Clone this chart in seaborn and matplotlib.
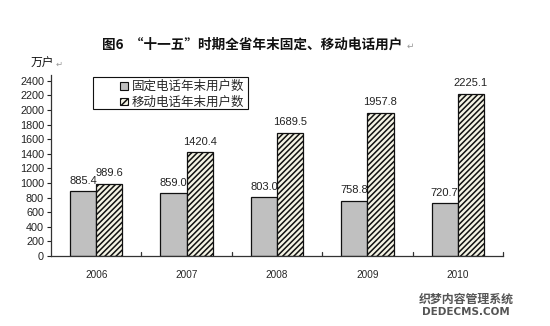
import matplotlib
matplotlib.use("Agg")
import matplotlib.pyplot as plt
import seaborn as sns
import pandas as pd
from matplotlib.patches import Patch, Rectangle

years = ["2006", "2007", "2008", "2009", "2010"]
fixed = [885.4, 859.0, 803.0, 758.8, 720.7]
mobile = [989.6, 1420.4, 1689.5, 1957.8, 2225.1]
series_names = ["固定电话年末用户数", "移动电话年末用户数"]
yticks = [0, 200, 400, 600, 800, 1000, 1200, 1400, 1600, 1800, 2000, 2200, 2400]
title = "图6  “十一五”时期全省年末固定、移动电话用户"
unit = "万户"

df = pd.DataFrame({
    "year": years * 2,
    "value": fixed + mobile,
    "series": [series_names[0]] * len(years) + [series_names[1]] * len(years),
})

sns.set_theme(style="white")
plt.rcParams['font.family'] = ['Liberation Sans', 'Noto Sans CJK SC', 'DejaVu Sans']
plt.rcParams['hatch.linewidth'] = 1.1
plt.rcParams['hatch.color'] = '#222222'

fig = plt.figure(figsize=(5.5, 3.26), dpi=100)
W, H = 550, 326
ax = fig.add_axes([51 / W, 1 - 256 / H, (503 - 51) / W, (256 - 74.9) / H])

sns.barplot(data=df, x="year", y="value", hue="series", ax=ax,
            width=0.58, gap=0, legend=False, saturation=1)

colors = ["#c0c0c0", "#f4f3e4"]
hatches = ["", "//////"]
n = len(years)
for i, p in enumerate(ax.patches[:2 * n]):
    s = i // n
    p.set_facecolor(colors[s])
    p.set_edgecolor("#111111")
    p.set_linewidth(0.9)
    p.set_hatch(hatches[s])

for i, p in enumerate(ax.patches[:2 * n]):
    v = (fixed + mobile)[i]
    ax.annotate(f"{v:.1f}", (p.get_x() + p.get_width() / 2, p.get_height()),
                xytext=(0, 4), textcoords="offset points", ha="center", va="bottom",
                fontsize=8, color="#222222")

ax.set_ylim(0, 2480)
ax.set_xlim(-0.5, 4.5)
ax.set_yticks(yticks)
ax.set_yticklabels([str(t) for t in yticks], fontsize=7.8)
ax.set_xticks(range(n))
ax.set_xticklabels(years, fontsize=7.2)
ax.set_xlabel("")
ax.set_ylabel("")
ax.tick_params(axis="x", length=0, pad=10)
ax.tick_params(axis="y", left=True, length=3, width=0.8, direction="out", pad=2, colors="#222222")
for b in [0.5, 1.5, 2.5, 3.5, 4.5]:
    ax.plot([b, b], [0, 55], color="#333333", lw=0.9, clip_on=False)

for side in ["top", "right"]:
    ax.spines[side].set_visible(False)
for side in ["left", "bottom"]:
    ax.spines[side].set_color("#333333")
    ax.spines[side].set_linewidth(0.9)

# legend: entries placed inside a manually drawn frame
handles = [Patch(facecolor=colors[0], edgecolor="#111111", linewidth=0.8),
           Patch(facecolor=colors[1], edgecolor="#111111", linewidth=0.8, hatch="/////")]
leg = fig.legend(handles, series_names, loc="upper left",
                 bbox_to_anchor=(117 / W, 1 - 77 / H),
                 frameon=False, handlelength=0.6, handleheight=0.6,
                 handletextpad=0.35, borderpad=0.25, labelspacing=0.22, borderaxespad=0,
                 prop={'family': ['Noto Sans CJK SC', 'DejaVu Sans'], 'size': 9})
fig.add_artist(Rectangle((93 / W, 1 - 109 / H), (248 - 93) / W, (109 - 77) / H,
                         transform=fig.transFigure, facecolor="white",
                         edgecolor="#111111", linewidth=0.8, zorder=2))
leg.set_zorder(3)

fig.text(252 / W, 1 - 45 / H, title, ha="center", va="center", fontsize=9.8,
         fontweight="bold", family=['Noto Sans CJK SC', 'DejaVu Sans'], color="#111111")
fig.text(410 / W, 1 - 46 / H, "↵", ha="center", va="center", fontsize=6.5,
         family=['DejaVu Sans'], color="#999999")
fig.text(31 / W, 1 - 63 / H, unit, ha="left", va="center", fontsize=8.5,
         family=['Noto Sans CJK SC', 'DejaVu Sans'], color="#111111")
fig.text(56 / W, 1 - 64 / H, "↵", ha="left", va="center", fontsize=6,
         family=['DejaVu Sans'], color="#999999")

fig.text(466 / W, 1 - 299 / H, "织梦内容管理系统", ha="center", va="center", fontsize=8.6,
         fontweight="bold", family=['Noto Sans CJK SC', 'DejaVu Sans'], color="#555555")
fig.text(466 / W, 1 - 312 / H, "DEDECMS.COM", ha="center", va="center", fontsize=7.5,
         fontweight="bold", family=['DejaVu Sans'], color="#555555")

fig.savefig("out.png", dpi=100)
